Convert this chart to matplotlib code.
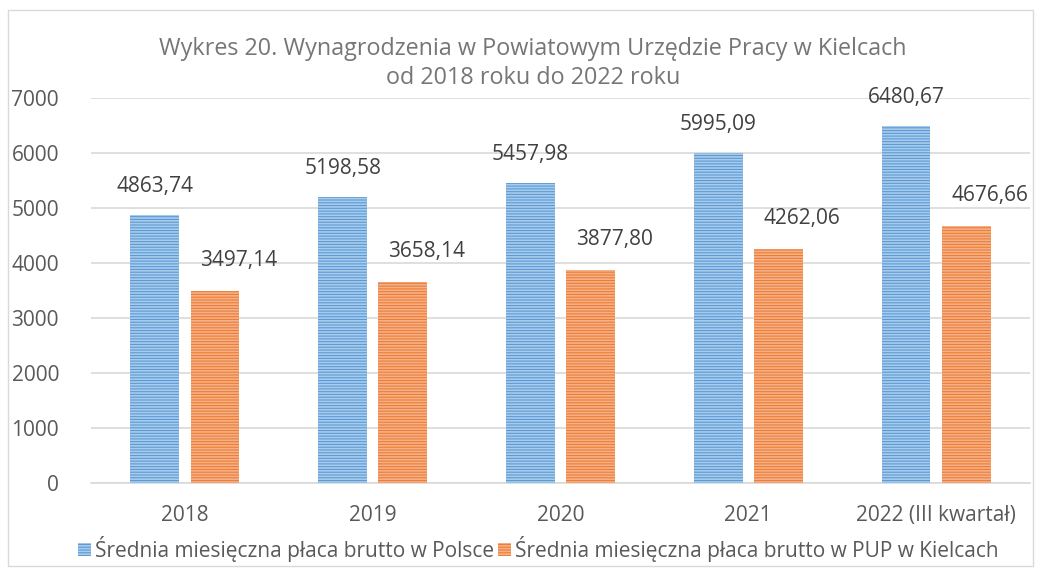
import numpy as np
import matplotlib.pyplot as plt
from matplotlib.patches import Rectangle

plt.rcParams['font.family'] = ['Open Sans', 'DejaVu Sans']
plt.rcParams['hatch.linewidth'] = 1.2

categories = ['2018', '2019', '2020', '2021', '2022 (III kwartał)']
polska = [4863.74, 5198.58, 5457.98, 5995.09, 6480.67]
pup = [3497.14, 3658.14, 3877.80, 4262.06, 4676.66]
labels = ['Średnia miesięczna płaca brutto w Polsce',
          'Średnia miesięczna płaca brutto w PUP w Kielcach']

grey = '#595959'
fig = plt.figure(figsize=(10.41, 5.68), dpi=100)
ax = fig.add_axes([0.0874, 0.1496, 0.902, 0.678])

x = np.arange(len(categories))
w = 0.26
off = 0.16
b1 = ax.bar(x - off, polska, w, color='#5B9BD5', edgecolor='#A9CBEB', hatch='------',
            linewidth=0, label=labels[0], zorder=3)
b2 = ax.bar(x + off, pup, w, color='#ED7D31', edgecolor='#F5B08A', hatch='------',
            linewidth=0, label=labels[1], zorder=3)

# etykiety wartosci (przecinek dziesietny)
for xi, v in zip(x, polska):
    ax.annotate(f'{v:.2f}'.replace('.', ','), (xi - off, v), xytext=(0, 13),
                textcoords='offset points', ha='center', va='bottom',
                fontsize=15, color='#404040')
for xi, v in zip(x, pup):
    ax.annotate(f'{v:.2f}'.replace('.', ','), (xi + off, v), xytext=(17, 14),
                textcoords='offset points', ha='center', va='bottom',
                fontsize=15, color='#404040')

ax.set_xlim(-0.5, len(categories) - 0.5)
ax.set_ylim(0, 7000)
ax.set_yticks(range(0, 7001, 1000))
ax.set_xticks(x)
ax.set_xticklabels(categories)
ax.yaxis.grid(True, color='#D9D9D9', linewidth=1.2)
ax.set_axisbelow(True)
for s in ['top', 'right', 'left']:
    ax.spines[s].set_visible(False)
ax.spines['bottom'].set_color('#D9D9D9')
ax.spines['bottom'].set_linewidth(1.2)
ax.tick_params(axis='both', length=0, labelsize=15, colors=grey)
ax.tick_params(axis='y', pad=23)
ax.tick_params(axis='x', pad=16)

fig.text(0.512, 0.889, 'Wykres 20. Wynagrodzenia w Powiatowym Urzędzie Pracy w Kielcach\nod 2018 roku do 2022 roku',
         ha='center', va='center', fontsize=16.8, color='#767676', linespacing=1.28)

fig.legend(handles=[b1, b2], loc='center', bbox_to_anchor=(0.517, 0.034), ncol=2,
           frameon=False, fontsize=15, handlelength=0.6, handleheight=0.6,
           handletextpad=0.2, columnspacing=0.2, labelcolor=grey)

fig.patches.append(Rectangle((8 / 1041, 2 / 568), 1 - 16 / 1041, 1 - 12 / 568,
                             transform=fig.transFigure, fill=False,
                             edgecolor='#D9D9D9', linewidth=1))

plt.savefig('out.png', dpi=100)
